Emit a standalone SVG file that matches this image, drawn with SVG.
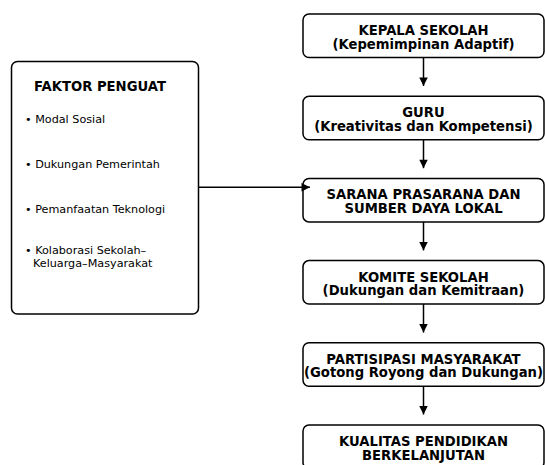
<svg xmlns="http://www.w3.org/2000/svg" width="545" height="465" viewBox="0 0 545 465">
  <defs>
    <style>
      .box { fill: #ffffff; stroke: #000000; stroke-width: 1.5; }
      .title { font-family: "DejaVu Sans", "Liberation Sans", sans-serif; font-size: 13.2px; font-weight: bold; fill: #000000; text-anchor: middle; }
      .item { font-family: "DejaVu Sans", "Liberation Sans", sans-serif; font-size: 11.2px; fill: #000000; }
      .conn { fill: none; stroke: #000000; stroke-width: 1.5; marker-end: url(#arrow); }
    </style>
    <marker id="arrow" viewBox="0 0 10 10" markerWidth="10" markerHeight="8.5" refX="10" refY="5" orient="auto" markerUnits="userSpaceOnUse">
      <path d="M0,0 L10,5 L0,10 z" fill="#000000"/>
    </marker>
  </defs>
  <rect width="545" height="465" fill="#ffffff"/>

  <g id="faktor-penguat">
    <rect class="box" x="11.5" y="61.5" width="187" height="252.5" rx="6"/>
    <text class="title" x="100" y="91">FAKTOR PENGUAT</text>
    <text class="item" x="25" y="123">• Modal Sosial</text>
    <text class="item" x="25" y="167.5">• Dukungan Pemerintah</text>
    <text class="item" x="25" y="212.5">• Pemanfaatan Teknologi</text>
    <text class="item" x="25" y="253.5">• Kolaborasi Sekolah–</text>
    <text class="item" x="33" y="266.5">Keluarga–Masyarakat</text>
  </g>

  <g id="kepala-sekolah">
    <rect class="box" x="303" y="14" width="241" height="43.5" rx="6"/>
    <text class="title" x="423.5" y="35">KEPALA SEKOLAH</text>
    <text class="title" x="423.5" y="48.5">(Kepemimpinan Adaptif)</text>
  </g>

  <g id="guru">
    <rect class="box" x="303" y="96.2" width="241" height="43.5" rx="6"/>
    <text class="title" x="423.5" y="117.2">GURU</text>
    <text class="title" x="423.5" y="130.7">(Kreativitas dan Kompetensi)</text>
  </g>

  <g id="sarana-prasarana">
    <rect class="box" x="303" y="178.4" width="241" height="43.5" rx="6"/>
    <text class="title" x="423.5" y="199.4">SARANA PRASARANA DAN</text>
    <text class="title" x="423.5" y="212.9">SUMBER DAYA LOKAL</text>
  </g>

  <g id="komite-sekolah">
    <rect class="box" x="303" y="260.6" width="241" height="43.5" rx="6"/>
    <text class="title" x="423.5" y="281.6">KOMITE SEKOLAH</text>
    <text class="title" x="423.5" y="295.1">(Dukungan dan Kemitraan)</text>
  </g>

  <g id="partisipasi-masyarakat">
    <rect class="box" x="303" y="342.8" width="241" height="43.5" rx="6"/>
    <text class="title" x="423.5" y="363.8">PARTISIPASI MASYARAKAT</text>
    <text class="title" x="423.5" y="377.3">(Gotong Royong dan Dukungan)</text>
  </g>

  <g id="kualitas-pendidikan">
    <rect class="box" x="303" y="425" width="241" height="43.5" rx="6"/>
    <text class="title" x="423.5" y="446">KUALITAS PENDIDIKAN</text>
    <text class="title" x="423.5" y="459.5">BERKELANJUTAN</text>
  </g>

  <g id="connectors">
    <line class="conn" x1="423.5" y1="57.5" x2="423.5" y2="86"/>
    <line class="conn" x1="423.5" y1="139.7" x2="423.5" y2="168.2"/>
    <line class="conn" x1="423.5" y1="221.9" x2="423.5" y2="250.4"/>
    <line class="conn" x1="423.5" y1="304.1" x2="423.5" y2="332.6"/>
    <line class="conn" x1="423.5" y1="386.3" x2="423.5" y2="414.5"/>
    <line class="conn" x1="198.5" y1="187.3" x2="310" y2="187.3"/>
  </g>
</svg>
